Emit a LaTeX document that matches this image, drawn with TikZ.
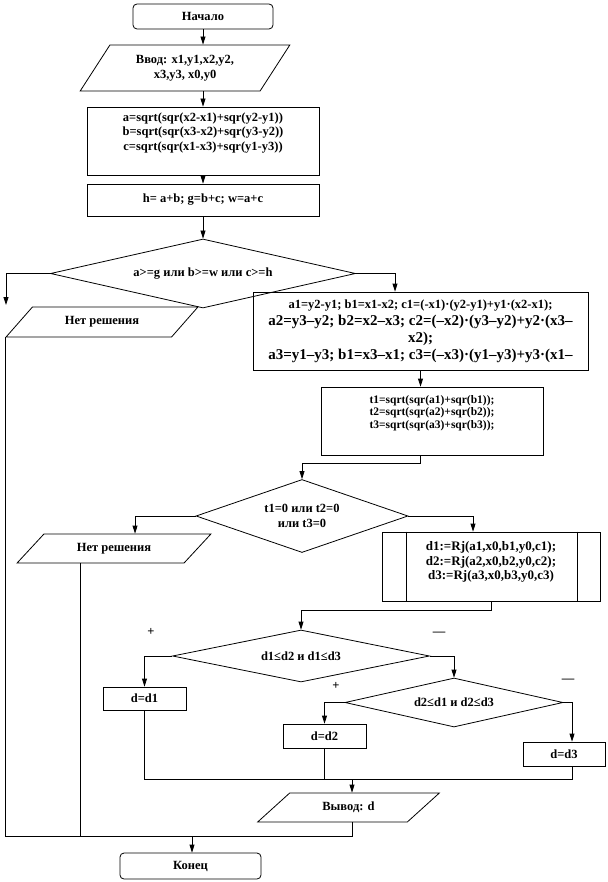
\documentclass[tikz,border=0pt]{standalone}
\usepackage{fontspec}
\setmainfont{Liberation Serif}
\usetikzlibrary{arrows.meta,calc,shapes.geometric}
\tikzset{
	txt/.style={font=\fontsize{12.5}{14.5}\selectfont\bfseries, align=center},
	term/.style={txt, draw, rectangle, rounded corners=4pt, inner sep=0pt},
	blk/.style={txt, draw, rectangle, inner sep=0pt},
	io/.style 2 args={txt, draw, trapezium, trapezium stretches=true, trapezium left angle=#1, trapezium right angle=#2, inner sep=0pt},
	cond/.style={txt, draw, diamond, inner sep=0pt},
	arr/.style={-{Triangle[length=8pt,width=5pt]}}
}

\begin{document}
\begin{tikzpicture}[x=1pt, y=-1pt, line width=0.8pt]
			%%%%% START %%%%%
			\useasboundingbox (0,0) rectangle (607,882);
			
			\node[term, minimum width=140pt, minimum height=25pt] (start) at (203,16.5) {Начало};
			\node[io={52.7}{127.3}, minimum width=210pt, minimum height=46pt] (in) at (185,68) {Ввод:  x1,y1,x2,y2,\\x3,y3,  x0,y0};
			\node[blk, minimum width=232pt, minimum height=68pt] (calc1) at (203,141) {a=sqrt(sqr(x2-x1)+sqr(y2-y1))\\b=sqrt(sqr(x3-x2)+sqr(y3-y2))\\c=sqrt(sqr(x1-x3)+sqr(y1-y3))\\[5pt]\mbox{}};
			\node[blk, minimum width=232pt, minimum height=32pt] (calc2) at (203,200) {h= a+b; g=b+c; w=a+c};
			
			\node[cond, aspect=4.4, minimum width=305pt, minimum height=69pt] (dia1) at (203,273.5) {a>=g или b>=w или c>=h};
			\coordinate (drop1) at (6,305);
			\node[io={37.6}{142.4}, minimum width=192pt, minimum height=30pt] (no1) at (102,322) {Нет решения};
			
			\node[blk, minimum width=335pt, minimum height=78pt, font=\fontsize{15}{17}\selectfont\bfseries] (coef) at (420.5,331) {{\fontsize{12.5}{15}\selectfont a1=y2-y1; b1=x1-x2;  c1=(-x1)·(y2-y1)+y1·(x2-x1);}\\a2=y3–y2; b2=x2–x3; c2=(–x2)·(y3–y2)+y2·(x3–\\x2);\\a3=y1–y3; b1=x3–x1; c3=(–x3)·(y1–y3)+y3·(x1–};
			\node[blk, minimum width=222pt, minimum height=68pt, font=\fontsize{11.5}{12.5}\selectfont\bfseries] (tcalc) at (432,421) {t1=sqrt(sqr(a1)+sqr(b1));\\t2=sqrt(sqr(a2)+sqr(b2));\\t3=sqrt(sqr(a3)+sqr(b3));\\[6pt]\mbox{}};
			
			\node[cond, aspect=3, minimum width=212pt, minimum height=73pt] (dia2) at (302,516) {t1=0 или t2=0\\или t3=0};
			\node[io={37.3}{142.7}, minimum width=194pt, minimum height=29pt] (no2) at (114,548.5) {Нет решения};
			\coordinate (no2out) at ($(no2.south)+(-34,0)$);
			\node[blk, minimum width=218pt, minimum height=69pt, font=\fontsize{13}{14.5}\selectfont\bfseries] (proc) at (491,566.5) {d1:=Rj(a1,x0,b1,y0,c1);\\d2:=Rj(a2,x0,b2,y0,c2);\\d3:=Rj(a3,x0,b3,y0,c3)\\[-3pt]\mbox{}};
			\draw ([xshift=25pt]proc.north west) -- ([xshift=25pt]proc.south west);
			\draw ([xshift=-23pt]proc.north east) -- ([xshift=-23pt]proc.south east);
			
			\node[cond, aspect=5, minimum width=257pt, minimum height=52pt] (dia3) at (301,656) {d1≤d2 и d1≤d3};
			\node[txt] (plus1) at (151,632) {+};
			\node[txt] (minus1) at (439,634) {—};
			\node[blk, minimum width=83pt, minimum height=23pt] (d1) at (144.5,698.5) {d=d1};
			
			\node[cond, aspect=4.4, minimum width=218pt, minimum height=49pt] (dia4) at (454,702.5) {d2≤d1 и d2≤d3};
			\node[txt] (plus2) at (336,686) {+};
			\node[txt] (minus2) at (568,681) {—};
			\node[blk, minimum width=83pt, minimum height=24pt] (d2) at (324.5,736) {d=d2};
			\node[blk, minimum width=82pt, minimum height=24pt] (d3) at (564,754) {d=d3};
			\coordinate (d3in) at ($(d3.north)+(8,0)$);
			\coordinate (d3out) at ($(d3.south)+(8,0)$);
			
			\coordinate (join) at (352,779);
			\node[io={37.3}{142.7}, minimum width=183pt, minimum height=29pt] (out) at (348.5,807.5) {Вывод:  d};
			\coordinate (join2) at (192,836);
			\node[term, minimum width=141pt, minimum height=26pt] (end) at (190.5,866) {Конец};
			
			% connectors
			\draw[arr] (start.south) -- (start.south |- in.north);
			\draw[arr] (in.south -| calc1.north) -- (calc1.north);
			\draw[arr] (calc1) -- (calc2);
			\draw[arr] (calc2) -- (dia1);
			\draw[arr] (dia1.west) -| (drop1);
			\draw[arr] (dia1.east) -| ([xshift=-25.5pt]coef.north);
			\draw[arr] (coef.south) -- (coef.south |- tcalc.north);
			\draw[arr] (tcalc.south -| coef.south) -- ++(0,8) -| (dia2.north);
			\draw[arr] (dia2.west) -| ($(no2.north)+(21,0)$);
			\draw[arr] (dia2.east) -| ([xshift=-18pt]proc.north);
			\draw[arr] (proc.south) -- ++(0,9) -| (dia3.north);
			\draw[arr] (dia3.west) -| (d1.north);
			\draw[arr] (dia3.east) -| (dia4.north);
			\draw[arr] (dia4.west) -| (d2.north);
			\draw[arr] (dia4.east) -| (d3in);
			
			\draw (d1.south) |- (d3out |- join) -- (d3out);
			\draw (d2.south) -- (d2.south |- join);
			\draw[arr] (join) -- (join |- out.north);
			
			\draw (no1.bottom left corner) |- (join |- join2) -- (join |- out.south);
			\draw (no2out) -- (no2out |- join2);
			\draw[arr] (join2) -- (join2 |- end.north);
			%%%%% END %%%%%
\end{tikzpicture}
\end{document}
